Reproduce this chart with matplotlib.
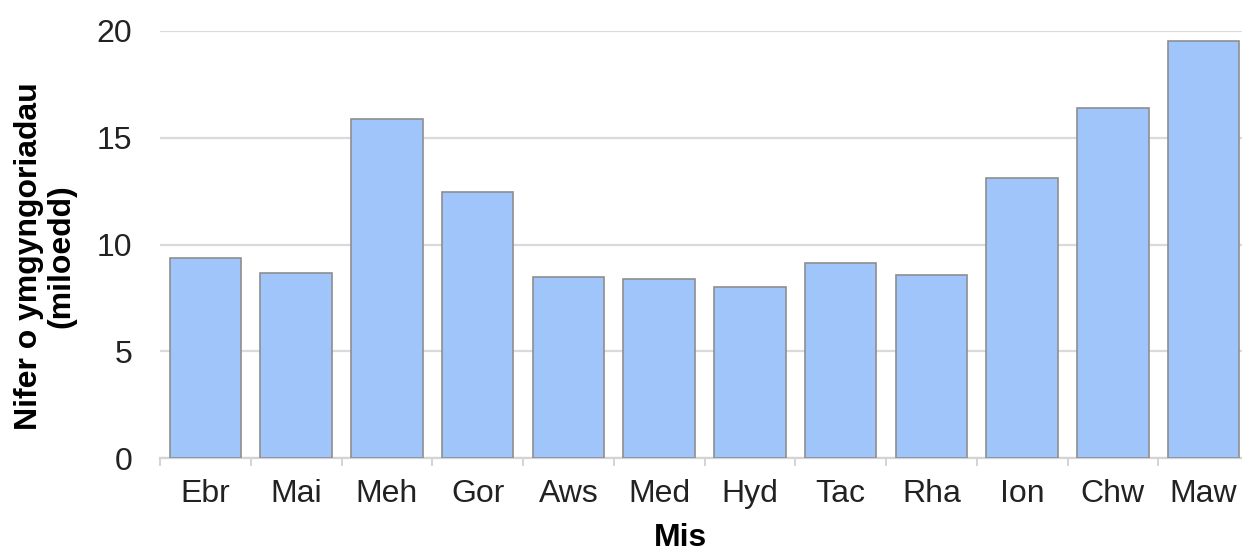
import matplotlib.pyplot as plt
import numpy as np

# month labels (Welsh) and values in thousands
months = ["Ebr", "Mai", "Meh", "Gor", "Aws", "Med", "Hyd", "Tac", "Rha", "Ion", "Chw", "Maw"]
values = [9.37, 8.66, 15.86, 12.44, 8.46, 8.37, 8.0, 9.12, 8.55, 13.1, 16.41, 19.55]
yticks = [0, 5, 10, 15, 20]

plt.rcParams['font.family'] = ['Liberation Sans', 'DejaVu Sans']

fig = plt.figure(figsize=(12.42, 5.54), dpi=100)
ax = fig.add_axes([160 / 1242, 96 / 554, 1089 / 1242, 427 / 554])

x = np.arange(len(months))
ax.bar(x, values, width=0.79, color='#A0C5FB', edgecolor='#8E8E8E', linewidth=1.2, zorder=3)

ax.set_xlim(-0.5, len(months) - 0.5)
ax.set_ylim(0, 20)
ax.set_yticks(yticks)
ax.set_xticks(x)
ax.set_xticklabels(months)
ax.set_xticks(np.arange(len(months) + 1) - 0.5, minor=True)

ax.yaxis.grid(True, color='#DADADA', linewidth=1.6, zorder=0)
for s in ['top', 'right', 'left']:
    ax.spines[s].set_visible(False)
ax.spines['bottom'].set_color('#D4D4D4')
ax.spines['bottom'].set_linewidth(1.6)

ax.tick_params(axis='y', length=0, pad=20, labelsize=23, labelcolor='#222222')
ax.tick_params(axis='x', which='major', length=0, pad=15, labelsize=23, labelcolor='#222222')
ax.tick_params(axis='x', which='minor', length=6, width=1.4, color='#D4D4D4')

ax.set_ylabel("Nifer o ymgyngoriadau\n(miloedd)", fontsize=23, fontweight='bold', linespacing=1.1)
ax.yaxis.set_label_coords(-0.077, 0.473)
ax.set_xlabel("Mis", fontsize=23, fontweight='bold')
ax.xaxis.set_label_coords(0.478, -0.152)

fig.savefig("out.png", dpi=100)
